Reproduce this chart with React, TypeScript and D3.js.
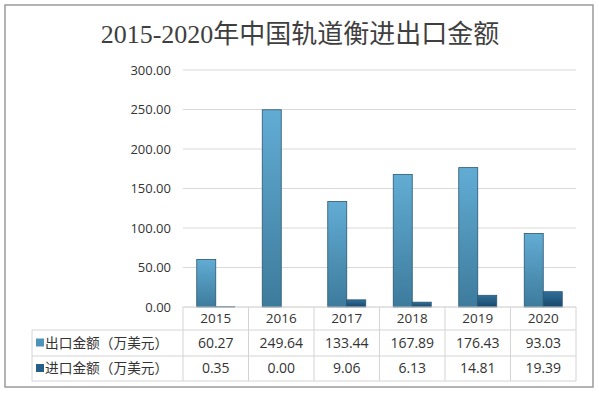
import React from "react";
import * as d3 from "d3";

const title = "2015-2020年中国轨道衡进出口金额";
const years = ["2015", "2016", "2017", "2018", "2019", "2020"];
const seriesNames = ["出口金额（万美元）", "进口金额（万美元）"];
const exportValues = [60.27, 249.64, 133.44, 167.89, 176.43, 93.03];
const importValues = [0.35, 0.0, 9.06, 6.13, 14.81, 19.39];
const yTicks = [0, 50, 100, 150, 200, 250, 300];

const W = 599;
const H = 393;

export default function App() {
  const plotLeft = 183;
  const plotRight = 576;
  const yTop = 70;
  const yBase = 307;
  const tableLeft = 32;
  const rowLines = [yBase, 330, 356, 381];

  const x = d3.scaleBand<string>().domain(years).range([plotLeft, plotRight]).padding(0);
  const y = d3.scaleLinear().domain([0, 300]).range([yBase, yTop]);
  const bw = x.bandwidth();
  const x1 = d3.scaleBand<string>().domain(["e", "i"]).range([bw / 2 - 19, bw / 2 + 19]).padding(0);
  const fmt = d3.format(".2f");

  const series = [
    { key: "e", values: exportValues, fill: "url(#gExp)", swatch: "#4f93ba" },
    { key: "i", values: importValues, fill: "url(#gImp)", swatch: "#255e87" },
  ];

  const fontSans = "'Open Sans', 'Noto Sans CJK SC', sans-serif";

  return (
    <svg
      width={W}
      height={H}
      style={{ position: "absolute", left: 0, top: 0, background: "#fff" }}
      fontFamily={fontSans}
    >
      <defs>
        <linearGradient id="gExp" x1="0" y1="0" x2="0" y2="1">
          <stop offset="0" stopColor="#62acd4" />
          <stop offset="1" stopColor="#3d7b9c" />
        </linearGradient>
        <linearGradient id="gImp" x1="0" y1="0" x2="0" y2="1">
          <stop offset="0" stopColor="#2f6f9a" />
          <stop offset="1" stopColor="#1a4769" />
        </linearGradient>
      </defs>
      <rect x={0} y={0} width={W} height={H} fill="#fff" />
      <rect x={5} y={5} width={588} height={382} fill="#fff" stroke="#9a9a9a" strokeWidth={1.5} />

      <text
        x={300}
        y={43}
        textAnchor="middle"
        fontSize={26}
        fill="#3f3f3f"
        fontFamily="'Liberation Serif', 'Noto Sans CJK SC', serif"
      >
        {title}
      </text>

      {yTicks.map((t) => (
        <g key={t}>
          {t > 0 && (
            <line x1={plotLeft} x2={plotRight} y1={y(t)} y2={y(t)} stroke="#d9d9d9" strokeWidth={1} />
          )}
          <text x={171} y={y(t)} dy="0.35em" textAnchor="end" fontSize={13} fill="#333">
            {fmt(t)}
          </text>
        </g>
      ))}

      {series.map((s) =>
        years.map((yr, i) => (
          <rect
            key={s.key + yr}
            x={(x(yr) as number) + (x1(s.key) as number)}
            y={y(s.values[i])}
            width={x1.bandwidth()}
            height={Math.max(0, yBase - y(s.values[i]))}
            fill={s.fill}
            stroke="#2a5672"
            strokeWidth={0.8}
          />
        ))
      )}

      {/* data table */}
      {rowLines.map((ry, i) => (
        <line
          key={"h" + i}
          x1={i === 0 ? plotLeft : tableLeft}
          x2={plotRight}
          y1={ry}
          y2={ry}
          stroke={i === 0 ? "#c8c8c8" : "#d4d4d4"}
          strokeWidth={1}
        />
      ))}
      {[...years.map((yr) => x(yr) as number), plotRight].map((vx, i) => (
        <line key={"v" + i} x1={vx} x2={vx} y1={yBase} y2={381} stroke="#d4d4d4" strokeWidth={1} />
      ))}
      <line x1={tableLeft} x2={tableLeft} y1={330} y2={381} stroke="#d4d4d4" strokeWidth={1} />

      {years.map((yr) => (
        <text
          key={"hy" + yr}
          x={(x(yr) as number) + bw / 2}
          y={(rowLines[0] + rowLines[1]) / 2}
          dy="0.35em"
          textAnchor="middle"
          fontSize={13.5}
          fill="#333"
        >
          {yr}
        </text>
      ))}

      {series.map((s, r) => {
        const cy = (rowLines[r + 1] + rowLines[r + 2]) / 2;
        return (
          <g key={"row" + s.key}>
            <rect x={36} y={cy - 4.5} width={8} height={8} fill={s.swatch} />
            <text x={45} y={cy} dy="0.35em" fontSize={13.7} fill="#333" fontFamily="'Noto Sans CJK SC', sans-serif">
              {seriesNames[r]}
            </text>
            {years.map((yr, i) => (
              <text
                key={"v" + yr}
                x={(x(yr) as number) + bw / 2}
                y={cy}
                dy="0.35em"
                textAnchor="middle"
                fontSize={14}
                fill="#333"
              >
                {fmt(s.values[i])}
              </text>
            ))}
          </g>
        );
      })}
    </svg>
  );
}
